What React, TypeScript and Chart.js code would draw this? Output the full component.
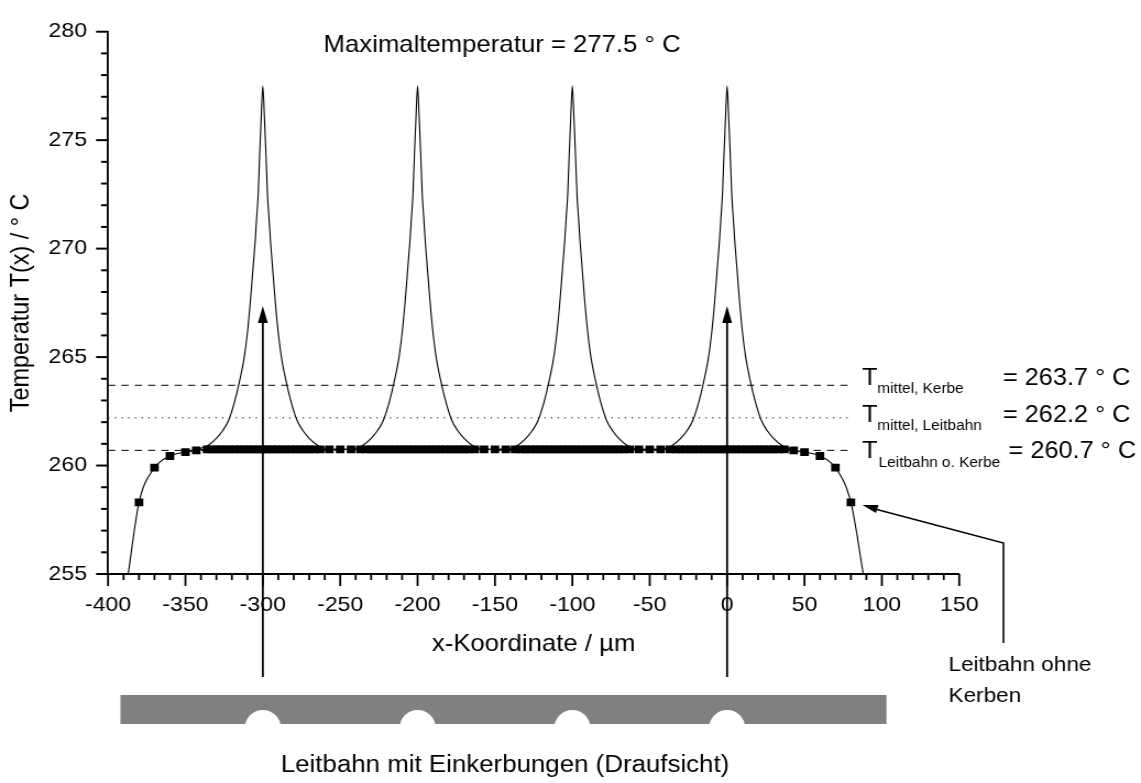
import React, { useEffect, useRef } from 'react';
import { Chart, registerables } from 'chart.js';

Chart.register(...registerables);

// ---------- page / stretch ----------
const PAGE_W = 1141;
const PAGE_H = 783;
const STRETCH = 1.1; // the reference is drawn slightly wider than tall
const CW = Math.round(PAGE_W / STRETCH);
const FONT = '"Liberation Sans", Arial, Helvetica, sans-serif';

// ---------- axes ----------
const X_MIN = -400;
const X_MAX = 150;
const X_MAJOR = 50;
const X_MINOR = 10;
const Y_MIN = 255;
const Y_MAX = 280;
const Y_MAJOR = 5;
const Y_MINOR = 1;

// ---------- data ----------
// notch (Kerbe) positions along the conductor
const notchCenters = [-300, -200, -100, 0];
// temperature profile around one notch (offset in µm -> °C)
const peakOffsets = [-45, -40, -35, -30, -26, -22, -18, -15, -12, -10, -8, -6, -5, -4, -3, -2, -1, 0, 1, 2, 3, 4, 5, 6, 8, 10, 12, 15, 18, 22, 26, 30, 35, 40, 45];
const peakValues = [260.75, 260.8, 260.95, 261.25, 261.6, 262.1, 263.0, 263.9, 265.0, 266.1, 267.6, 269.4, 270.3, 271.4, 272.5, 274.4, 276.1, 277.5, 276.1, 274.4, 272.5, 271.4, 270.3, 269.4, 267.6, 266.1, 265.0, 263.9, 263.0, 262.1, 261.6, 261.25, 260.95, 260.8, 260.75];

// conductor without notches (mesh nodes, square markers)
const wireX = [
  -387, -380, -370, -360, -350, -343, -336,
  -333, -330, -327, -324, -321, -318, -315, -312, -309, -306, -303, -300, -297, -294, -291, -288, -285, -282, -279, -276, -273, -270, -267,
  -263, -257, -250, -243, -237,
  -233, -230, -227, -224, -221, -218, -215, -212, -209, -206, -203, -200, -197, -194, -191, -188, -185, -182, -179, -176, -173, -170, -167,
  -163, -157, -150, -143, -137,
  -133, -130, -127, -124, -121, -118, -115, -112, -109, -106, -103, -100, -97, -94, -91, -88, -85, -82, -79, -76, -73, -70, -67,
  -63, -57, -50, -43, -37,
  -33, -30, -27, -24, -21, -18, -15, -12, -9, -6, -3, 0, 3, 6, 9, 12, 15, 18, 21, 24, 27, 30, 33,
  37, 43, 50, 60, 70, 80, 88,
];
const wireY = [
  255.0, 258.3, 259.9, 260.44, 260.62, 260.7, 260.75,
  260.75, 260.75, 260.75, 260.75, 260.75, 260.75, 260.75, 260.75, 260.75, 260.75, 260.75, 260.75, 260.75, 260.75, 260.75, 260.75, 260.75, 260.75, 260.75, 260.75, 260.75, 260.75, 260.75,
  260.75, 260.75, 260.75, 260.75, 260.75,
  260.75, 260.75, 260.75, 260.75, 260.75, 260.75, 260.75, 260.75, 260.75, 260.75, 260.75, 260.75, 260.75, 260.75, 260.75, 260.75, 260.75, 260.75, 260.75, 260.75, 260.75, 260.75, 260.75,
  260.75, 260.75, 260.75, 260.75, 260.75,
  260.75, 260.75, 260.75, 260.75, 260.75, 260.75, 260.75, 260.75, 260.75, 260.75, 260.75, 260.75, 260.75, 260.75, 260.75, 260.75, 260.75, 260.75, 260.75, 260.75, 260.75, 260.75, 260.75,
  260.75, 260.75, 260.75, 260.75, 260.75,
  260.75, 260.75, 260.75, 260.75, 260.75, 260.75, 260.75, 260.75, 260.75, 260.75, 260.75, 260.75, 260.75, 260.75, 260.75, 260.75, 260.75, 260.75, 260.75, 260.75, 260.75, 260.75, 260.75,
  260.75, 260.7, 260.62, 260.44, 259.9, 258.3, 255.0,
];
// end points that carry no marker
const wireHiddenX = [-387, 88];

// reference levels
const refLabelsMain = ['mittel, Kerbe', 'mittel, Leitbahn', 'Leitbahn o. Kerbe'];
const refValues = [263.7, 262.2, 260.7];
const refDashes = [[6.6, 5.5], [1.2, 4.9], [6.6, 5.5]];
const refStartX = -400;
const refEndX = 81;

const maxTemp = 277.5;
const arrowXs = [-300, 0];
const arrowTipY = 267.35;
const pointerTarget = { x: 80, y: 258.3 };
const stripFromX = -392;
const stripToX = 103;

// ---------- helpers ----------
function kerbePoints() {
  const pts: { x: number; y: number }[] = [];
  notchCenters.forEach((c) => {
    peakOffsets.forEach((o, i) => pts.push({ x: c + o, y: peakValues[i] }));
  });
  return pts;
}

const wirePoints = wireX.map((x, i) => ({ x, y: wireY[i] }));
const wireRadii = wireX.map((x) => (wireHiddenX.includes(x) ? 0 : 5.5));

function fmt(v: number) {
  return v.toFixed(1);
}

const overlayPlugin = {
  id: 'overlay',
  afterDraw(chart: any) {
    const ctx: CanvasRenderingContext2D = chart.ctx;
    const xs = chart.scales.x;
    const ys = chart.scales.y;
    const { left, bottom } = chart.chartArea;
    ctx.save();
    ctx.strokeStyle = '#000';
    ctx.fillStyle = '#000';

    // x ticks (major + minor), pointing down
    ctx.lineWidth = 1.8;
    for (let v = X_MIN; v <= X_MAX; v += X_MINOR) {
      const px = xs.getPixelForValue(v);
      const len = v % X_MAJOR === 0 ? 12 : 6;
      ctx.beginPath();
      ctx.moveTo(px, bottom);
      ctx.lineTo(px, bottom + len);
      ctx.stroke();
    }
    // y ticks, pointing left
    ctx.lineWidth = 2;
    for (let v = Y_MIN; v <= Y_MAX; v += Y_MINOR) {
      const py = ys.getPixelForValue(v);
      const len = v % Y_MAJOR === 0 ? 10.9 : 6.4;
      ctx.beginPath();
      ctx.moveTo(left, py);
      ctx.lineTo(left - len, py);
      ctx.stroke();
    }

    // vertical arrows at notches
    arrowXs.forEach((c) => {
      const px = xs.getPixelForValue(c);
      const tip = ys.getPixelForValue(arrowTipY);
      const headL = 17;
      const headW = 4.5;
      ctx.lineWidth = 1.8;
      ctx.beginPath();
      ctx.moveTo(px, 677);
      ctx.lineTo(px, tip + headL - 2);
      ctx.stroke();
      ctx.beginPath();
      ctx.moveTo(px, tip);
      ctx.lineTo(px - headW, tip + headL);
      ctx.lineTo(px + headW, tip + headL);
      ctx.closePath();
      ctx.fill();
    });

    // pointer to the wire-without-notches curve
    {
      const tx = xs.getPixelForValue(pointerTarget.x) + 10.5;
      const ty = ys.getPixelForValue(pointerTarget.y) + 2.5;
      const cx = 912;
      const cy = 543;
      ctx.lineWidth = 1.6;
      ctx.beginPath();
      ctx.moveTo(cx, 643);
      ctx.lineTo(cx, cy);
      ctx.lineTo(tx + 8, ty + 3);
      ctx.stroke();
      const dx = cx - tx;
      const dy = cy - ty;
      const d = Math.hypot(dx, dy);
      const ux = dx / d;
      const uy = dy / d;
      const L = 14;
      const W = 4.2;
      ctx.beginPath();
      ctx.moveTo(tx, ty);
      ctx.lineTo(tx + ux * L - uy * W, ty + uy * L + ux * W);
      ctx.lineTo(tx + ux * L + uy * W, ty + uy * L - ux * W);
      ctx.closePath();
      ctx.fill();
    }

    // texts
    ctx.textBaseline = 'alphabetic';
    ctx.textAlign = 'left';
    ctx.font = `23.4px ${FONT}`;
    ctx.fillText(`Maximaltemperatur = ${fmt(maxTemp)} ° C`, 294, 52);

    const rows = [
      { tY: 385, subY: 393.3, subX: 797.3, eqX: 911.5 },
      { tY: 422.3, subY: 430, subX: 797.3, eqX: 911.5 },
      { tY: 458.3, subY: 466.7, subX: 798.5, eqX: 916.6 },
    ];
    rows.forEach((r, i) => {
      ctx.font = `23px ${FONT}`;
      ctx.fillText('T', 783.4, r.tY);
      ctx.font = `14px ${FONT}`;
      ctx.fillText(refLabelsMain[i], r.subX, r.subY);
      ctx.font = `23px ${FONT}`;
      ctx.fillText(`= ${fmt(refValues[i])} ° C`, r.eqX, r.tY);
    });

    ctx.font = `20.5px ${FONT}`;
    ctx.fillText('Leitbahn ohne', 862, 671);
    ctx.fillText('Kerben', 862, 702);

    // plan view of the conductor with notches
    const x0 = xs.getPixelForValue(stripFromX);
    const x1 = xs.getPixelForValue(stripToX);
    ctx.fillStyle = '#808080';
    ctx.fillRect(x0, 695, x1 - x0, 29);
    ctx.fillStyle = '#ffffff';
    notchCenters.forEach((c) => {
      const px = xs.getPixelForValue(c);
      ctx.beginPath();
      ctx.ellipse(px, 728, 16.4, 18, 0, 0, Math.PI * 2);
      ctx.fill();
    });
    ctx.fillStyle = '#000';
    ctx.textAlign = 'center';
    ctx.font = `23.5px ${FONT}`;
    ctx.fillText('Leitbahn mit Einkerbungen (Draufsicht)', 459, 772);

    ctx.restore();
  },
};

export default function App() {
  const ref = useRef<HTMLCanvasElement>(null);

  useEffect(() => {
    if (!ref.current) return;
    const datasets: any[] = [
      {
        label: 'Leitbahn ohne Kerbe',
        data: wirePoints,
        showLine: true,
        borderColor: '#000',
        borderWidth: 1.1,
        pointStyle: 'rect',
        pointRadius: wireRadii,
        pointBackgroundColor: '#000',
        pointBorderWidth: 0,
        cubicInterpolationMode: 'monotone',
      },
      {
        label: 'Leitbahn mit Kerben',
        data: kerbePoints(),
        showLine: true,
        borderColor: '#000',
        borderWidth: 1.1,
        pointRadius: 0,
        cubicInterpolationMode: 'monotone',
      },
      ...refValues.map((v, i) => ({
        label: refLabelsMain[i],
        data: [
          { x: refStartX, y: v },
          { x: refEndX, y: v },
        ],
        showLine: true,
        borderColor: '#000',
        borderWidth: 1,
        borderDash: refDashes[i],
        pointRadius: 0,
      })),
    ];

    const chart = new Chart(ref.current, {
      type: 'scatter',
      data: { datasets },
      plugins: [overlayPlugin],
      options: {
        responsive: false,
        animation: false,
        devicePixelRatio: 1,
        events: [],
        layout: { padding: { left: 0, top: 22.7, right: CW - 871.8, bottom: 0 } },
        plugins: {
          legend: { display: false },
          tooltip: { enabled: false },
        },
        scales: {
          x: {
            type: 'linear',
            min: X_MIN,
            max: X_MAX,
            ticks: {
              stepSize: X_MAJOR,
              color: '#000',
              font: { family: FONT, size: 21 },
              padding: 18.4,
              maxRotation: 0,
              autoSkip: false,
            },
            grid: { display: false, drawTicks: false },
            border: { display: true, color: '#000', width: 2 },
            title: {
              display: true,
              text: 'x-Koordinate / µm',
              color: '#000',
              font: { family: FONT, size: 23.4 },
              padding: { top: 0, bottom: 124 },
            },
            afterFit: (s: any) => {
              s.height = PAGE_H - 574;
            },
          },
          y: {
            type: 'linear',
            min: Y_MIN,
            max: Y_MAX,
            ticks: {
              stepSize: Y_MAJOR,
              color: '#000',
              font: { family: FONT, size: 21 },
              padding: 19.1,
            },
            grid: { display: false, drawTicks: false },
            border: { display: true, color: '#000', width: 1.8 },
            title: {
              display: true,
              text: 'Temperatur T(x) / ° C',
              color: '#000',
              font: { family: FONT, size: 23.4 },
              padding: { top: 5.9, bottom: 0 },
            },
            afterFit: (s: any) => {
              s.width = 98.2;
            },
          },
        },
      } as any,
    });
    return () => chart.destroy();
  }, []);

  return (
    <div style={{ position: 'fixed', left: 0, top: 0, width: PAGE_W, height: PAGE_H, background: '#fff' }}>
      <canvas
        ref={ref}
        width={CW}
        height={PAGE_H}
        style={{ width: `${PAGE_W}px`, height: `${PAGE_H}px`, display: 'block' }}
      />
    </div>
  );
}
